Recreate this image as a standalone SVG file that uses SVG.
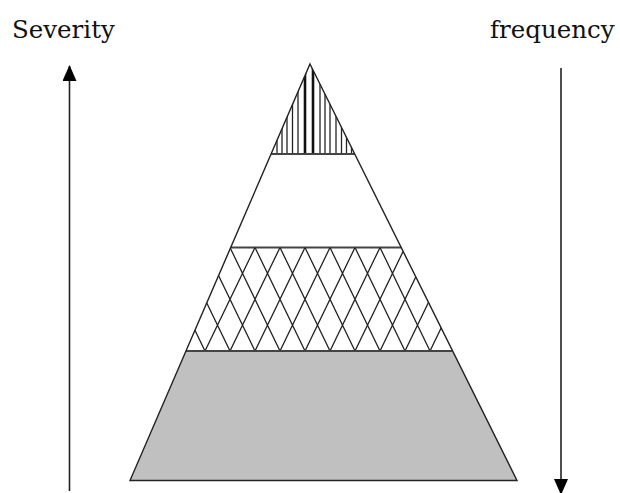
<svg xmlns="http://www.w3.org/2000/svg" width="620" height="493" viewBox="0 0 620 493">
  <style>
    .lbl { font-family: "DejaVu Serif", "Liberation Serif", serif; font-size: 24.5px; fill: #111; }
    .edge { fill: none; stroke: #222; stroke-width: 1.4; }
    .band { stroke: #444; stroke-width: 2; }
    .hatch { stroke: #222; stroke-width: 1.3; fill: none; }
    .thick { stroke: #111; stroke-width: 2.6; }
    .arrow { stroke: #222; stroke-width: 1.6; fill: none; }
  </style>
  <defs>
    <clipPath id="clipTop"><polygon points="310,64 271.1,154 354.7,154"/></clipPath>
    <clipPath id="clipMid"><polygon points="230.7,247.5 401.2,247.5 452.6,351 186,351"/></clipPath>
    <marker id="head" markerWidth="16" markerHeight="14" refX="15" refY="7" orient="auto" markerUnits="userSpaceOnUse" viewBox="0 0 16 14">
      <path d="M0,0 L16,7 L0,14 Z" fill="#000"/>
    </marker>
  </defs>
  <rect width="620" height="493" fill="#fff"/>

  <g id="label-severity"><text class="lbl" x="12" y="38">Severity</text></g>
  <g id="label-frequency"><text class="lbl" x="490" y="38">frequency</text></g>

  <g id="level-1">
    <g clip-path="url(#clipTop)">
      <line class="hatch" x1="277" y1="60" x2="277" y2="154"/>
      <line class="hatch" x1="282" y1="60" x2="282" y2="154"/>
      <line class="hatch" x1="287" y1="60" x2="287" y2="154"/>
      <line class="hatch" x1="292.5" y1="60" x2="292.5" y2="154"/>
      <line class="hatch" x1="298" y1="60" x2="298" y2="154"/>
      <line class="thick" x1="305" y1="60" x2="305" y2="154"/>
      <line class="thick" x1="313" y1="60" x2="313" y2="154"/>
      <line class="hatch" x1="320" y1="60" x2="320" y2="154"/>
      <line class="hatch" x1="325" y1="60" x2="325" y2="154"/>
      <line class="hatch" x1="330" y1="60" x2="330" y2="154"/>
      <line class="hatch" x1="336" y1="60" x2="336" y2="154"/>
      <line class="hatch" x1="341.5" y1="60" x2="341.5" y2="154"/>
      <line class="hatch" x1="346.5" y1="60" x2="346.5" y2="154"/>
      <line class="hatch" x1="351.5" y1="60" x2="351.5" y2="154"/>
    </g>
    <line class="band" x1="271.1" y1="154" x2="354.7" y2="154"/>
  </g>

  <g id="level-2">
    <line class="band" x1="230.7" y1="247.5" x2="401.2" y2="247.5"/>
  </g>

  <g id="level-3">
    <g clip-path="url(#clipMid)">
      <path class="hatch" d="M155,247.5 l50,103.5 M180,247.5 l50,103.5 M205,247.5 l50,103.5 M230,247.5 l50,103.5 M255,247.5 l50,103.5 M280,247.5 l50,103.5 M305,247.5 l50,103.5 M330,247.5 l50,103.5 M355,247.5 l50,103.5 M380,247.5 l50,103.5 M405,247.5 l50,103.5 M430,247.5 l50,103.5
        M230,247.5 l-50,103.5 M255,247.5 l-50,103.5 M280,247.5 l-50,103.5 M305,247.5 l-50,103.5 M330,247.5 l-50,103.5 M355,247.5 l-50,103.5 M380,247.5 l-50,103.5 M405,247.5 l-50,103.5 M430,247.5 l-50,103.5 M455,247.5 l-50,103.5 M480,247.5 l-50,103.5 M505,247.5 l-50,103.5"/>
    </g>
  </g>

  <g id="level-4">
    <polygon points="186,351 452.6,351 517,480.5 130,480.5" fill="#c0c0c0" stroke="none"/>
    <line class="band" x1="186" y1="351" x2="452.6" y2="351"/>
  </g>

  <g id="pyramid-outline">
    <polygon class="edge" points="310,64 517,480.5 130,480.5"/>
  </g>

  <g id="connectors">
    <line class="arrow" x1="69.5" y1="491" x2="69.5" y2="66" marker-end="url(#head)"/>
    <line class="arrow" x1="561" y1="68" x2="561" y2="494" marker-end="url(#head)"/>
  </g>
</svg>
